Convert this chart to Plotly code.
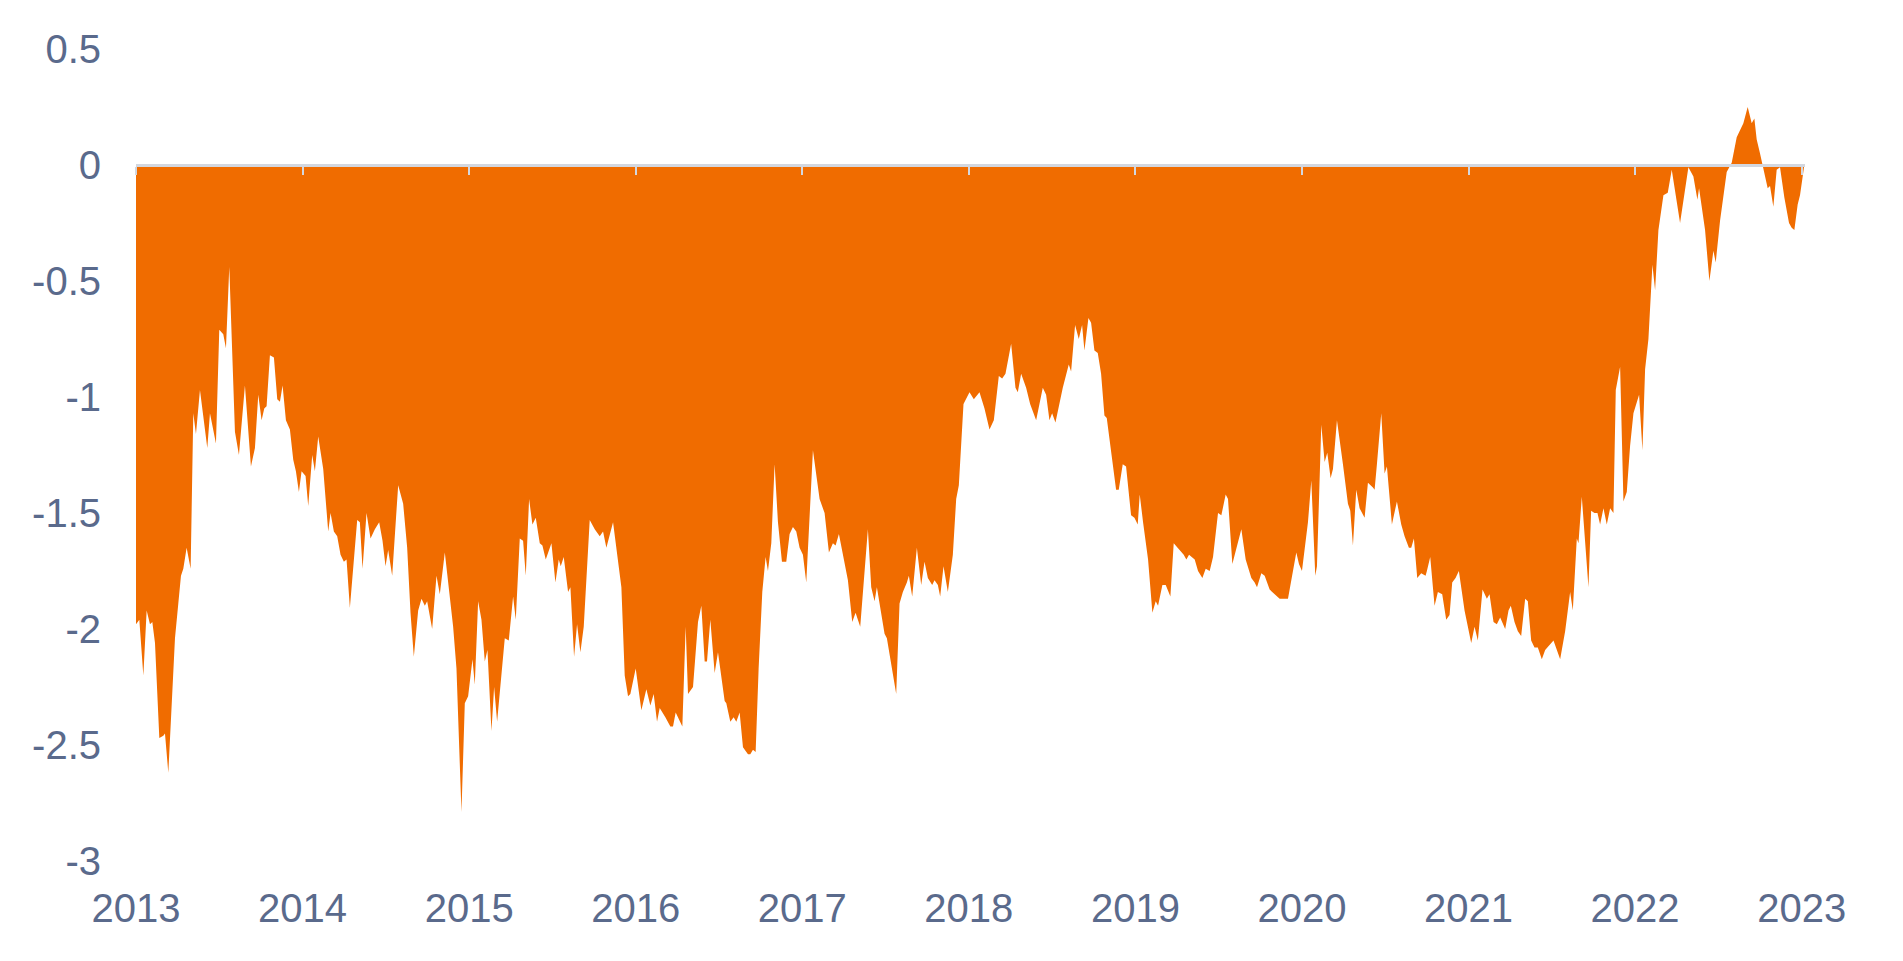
import plotly.graph_objects as go

# ---- data (decimal years, values) ----
t_a = [2013.000, 2013.020, 2013.044, 2013.064, 2013.084, 2013.098, 2013.114, 2013.140, 2013.164, 2013.174,
       2013.194, 2013.234, 2013.254, 2013.270, 2013.284, 2013.304, 2013.328, 2013.344, 2013.360, 2013.384,
       2013.428, 2013.444, 2013.480, 2013.500, 2013.524, 2013.540, 2013.560, 2013.594, 2013.618, 2013.654,
       2013.690, 2013.714, 2013.734, 2013.754, 2013.770, 2013.784, 2013.804, 2013.828, 2013.848, 2013.864,
       2013.880, 2013.900, 2013.924, 2013.944, 2013.960, 2013.978, 2013.994, 2014.018, 2014.034, 2014.058,
       2014.074, 2014.094, 2014.124, 2014.154, 2014.168, 2014.188, 2014.208, 2014.228, 2014.248, 2014.264,
       2014.284, 2014.328, 2014.344, 2014.360, 2014.384, 2014.408, 2014.434, 2014.460, 2014.480, 2014.498,
       2014.514, 2014.538, 2014.574, 2014.604, 2014.628, 2014.648, 2014.668, 2014.694, 2014.714, 2014.734,
       2014.748, 2014.778, 2014.804, 2014.824, 2014.854, 2014.874, 2014.904, 2014.924, 2014.940, 2014.954,
       2014.974]
v_a = [-1.98, -1.96, -2.20, -1.92, -1.98, -1.97, -2.06, -2.47, -2.46, -2.45,
       -2.62, -2.04, -1.89, -1.77, -1.74, -1.65, -1.74, -1.07, -1.16, -0.97,
       -1.22, -1.07, -1.20, -0.71, -0.73, -0.79, -0.44, -1.15, -1.25, -0.95,
       -1.30, -1.22, -0.99, -1.10, -1.05, -1.04, -0.82, -0.83, -1.01, -1.02,
       -0.95, -1.10, -1.14, -1.27, -1.32, -1.41, -1.32, -1.34, -1.47, -1.25,
       -1.32, -1.17, -1.31, -1.58, -1.50, -1.58, -1.60, -1.68, -1.71, -1.70,
       -1.91, -1.53, -1.54, -1.74, -1.50, -1.61, -1.57, -1.54, -1.62, -1.73,
       -1.66, -1.77, -1.38, -1.46, -1.65, -1.93, -2.12, -1.92, -1.87, -1.90,
       -1.88, -2.00, -1.77, -1.85, -1.67, -1.80, -1.99, -2.17, -2.55, -2.79,
       -2.32]

t_b = [2014.994, 2015.020, 2015.034, 2015.054, 2015.074, 2015.094, 2015.110, 2015.134, 2015.150, 2015.168,
       2015.214, 2015.238, 2015.264, 2015.280, 2015.304, 2015.324, 2015.340, 2015.360, 2015.380, 2015.400,
       2015.424, 2015.440, 2015.460, 2015.494, 2015.518, 2015.538, 2015.550, 2015.568, 2015.594, 2015.608,
       2015.630, 2015.648, 2015.668, 2015.688, 2015.724, 2015.754, 2015.784, 2015.804, 2015.824, 2015.864,
       2015.888, 2015.914, 2015.934, 2015.954, 2015.968, 2016.000, 2016.034, 2016.064, 2016.088, 2016.108,
       2016.128, 2016.144, 2016.178, 2016.208, 2016.224, 2016.240, 2016.280, 2016.300, 2016.314, 2016.344,
       2016.374, 2016.394, 2016.414, 2016.428, 2016.448, 2016.474, 2016.494, 2016.534, 2016.544, 2016.568,
       2016.588, 2016.604, 2016.624, 2016.644, 2016.674, 2016.688, 2016.704, 2016.720, 2016.738, 2016.760,
       2016.780, 2016.794, 2016.814, 2016.834, 2016.854, 2016.878, 2016.904, 2016.924, 2016.944, 2016.964]
v_b = [-2.29, -2.13, -2.24, -1.88, -1.96, -2.14, -2.09, -2.44, -2.25, -2.40,
       -2.04, -2.05, -1.86, -1.96, -1.61, -1.62, -1.77, -1.44, -1.55, -1.52,
       -1.63, -1.64, -1.70, -1.63, -1.80, -1.70, -1.73, -1.69, -1.84, -1.82,
       -2.12, -1.98, -2.10, -1.99, -1.53, -1.57, -1.60, -1.58, -1.65, -1.54,
       -1.68, -1.82, -2.20, -2.29, -2.28, -2.17, -2.35, -2.26, -2.33, -2.28,
       -2.40, -2.34, -2.38, -2.42, -2.42, -2.36, -2.42, -1.99, -2.28, -2.25,
       -1.97, -1.90, -2.14, -2.14, -1.96, -2.19, -2.10, -2.31, -2.32, -2.40,
       -2.38, -2.40, -2.36, -2.51, -2.54, -2.54, -2.52, -2.53, -2.17, -1.84,
       -1.69, -1.75, -1.63, -1.29, -1.54, -1.71, -1.71, -1.59, -1.56, -1.58]

t_c = [2016.984, 2017.004, 2017.024, 2017.064, 2017.104, 2017.134, 2017.160, 2017.184, 2017.200, 2017.220,
       2017.274, 2017.300, 2017.320, 2017.348, 2017.394, 2017.414, 2017.434, 2017.448, 2017.494, 2017.508,
       2017.564, 2017.584, 2017.604, 2017.628, 2017.640, 2017.660, 2017.688, 2017.714, 2017.734, 2017.754,
       2017.780, 2017.794, 2017.814, 2017.828, 2017.848, 2017.874, 2017.904, 2017.924, 2017.940, 2017.968,
       2018.004, 2018.030, 2018.064, 2018.094, 2018.124, 2018.150, 2018.180, 2018.200, 2018.220, 2018.254,
       2018.280, 2018.294, 2018.314, 2018.344, 2018.368, 2018.404, 2018.424, 2018.444, 2018.464, 2018.484,
       2018.500, 2018.520, 2018.564, 2018.600, 2018.614, 2018.638, 2018.660, 2018.680, 2018.694, 2018.718,
       2018.734, 2018.754, 2018.774, 2018.794, 2018.814, 2018.828, 2018.884, 2018.900, 2018.924, 2018.944,
       2018.974, 2018.994, 2019.014]
v_c = [-1.65, -1.68, -1.80, -1.23, -1.44, -1.50, -1.67, -1.63, -1.64, -1.59,
       -1.79, -1.97, -1.93, -1.99, -1.57, -1.82, -1.88, -1.82, -2.02, -2.04,
       -2.28, -1.89, -1.84, -1.80, -1.77, -1.86, -1.65, -1.81, -1.71, -1.78,
       -1.81, -1.79, -1.81, -1.86, -1.73, -1.84, -1.68, -1.44, -1.38, -1.03,
       -0.98, -1.01, -0.98, -1.05, -1.14, -1.10, -0.91, -0.92, -0.90, -0.77,
       -0.96, -0.98, -0.90, -0.96, -1.03, -1.10, -1.03, -0.96, -0.99, -1.10,
       -1.07, -1.11, -0.96, -0.86, -0.89, -0.69, -0.75, -0.69, -0.80, -0.66,
       -0.68, -0.80, -0.81, -0.90, -1.08, -1.09, -1.40, -1.40, -1.29, -1.30,
       -1.51, -1.52, -1.55]

t_d = [2019.026, 2019.046, 2019.076, 2019.102, 2019.122, 2019.136, 2019.162, 2019.182, 2019.210, 2019.230,
       2019.266, 2019.290, 2019.306, 2019.322, 2019.356, 2019.376, 2019.402, 2019.422, 2019.446, 2019.466,
       2019.496, 2019.516, 2019.542, 2019.556, 2019.582, 2019.606, 2019.636, 2019.662, 2019.696, 2019.716,
       2019.730, 2019.756, 2019.776, 2019.806, 2019.836, 2019.866, 2019.916, 2019.942, 2019.966, 2019.982,
       2020.000, 2020.036, 2020.056, 2020.080, 2020.090, 2020.116, 2020.136, 2020.152, 2020.172, 2020.186,
       2020.210, 2020.246, 2020.276, 2020.290, 2020.306, 2020.326, 2020.346, 2020.376, 2020.396, 2020.426,
       2020.436, 2020.450, 2020.476, 2020.496, 2020.510, 2020.540, 2020.570, 2020.596, 2020.616, 2020.642,
       2020.656, 2020.672, 2020.692, 2020.716, 2020.742, 2020.750, 2020.770, 2020.796, 2020.816, 2020.842,
       2020.866, 2020.886, 2020.902, 2020.922, 2020.942, 2020.976, 2021.016, 2021.036, 2021.056]
v_d = [-1.42, -1.54, -1.70, -1.93, -1.88, -1.90, -1.81, -1.81, -1.86, -1.63,
       -1.66, -1.68, -1.70, -1.68, -1.70, -1.75, -1.78, -1.74, -1.75, -1.69,
       -1.50, -1.51, -1.42, -1.44, -1.72, -1.65, -1.57, -1.70, -1.78, -1.80,
       -1.82, -1.76, -1.77, -1.83, -1.85, -1.87, -1.87, -1.77, -1.67, -1.72,
       -1.75, -1.54, -1.36, -1.77, -1.73, -1.12, -1.28, -1.24, -1.35, -1.31,
       -1.10, -1.29, -1.46, -1.49, -1.64, -1.40, -1.48, -1.52, -1.37, -1.39,
       -1.40, -1.29, -1.07, -1.33, -1.30, -1.55, -1.45, -1.55, -1.60, -1.65,
       -1.65, -1.61, -1.78, -1.76, -1.77, -1.75, -1.69, -1.90, -1.84, -1.85,
       -1.96, -1.94, -1.80, -1.78, -1.75, -1.92, -2.06, -1.99, -2.05]

t_e = [2021.084, 2021.110, 2021.126, 2021.150, 2021.170, 2021.190, 2021.220, 2021.240, 2021.254, 2021.276,
       2021.296, 2021.316, 2021.340, 2021.356, 2021.376, 2021.396, 2021.416, 2021.440, 2021.460, 2021.484,
       2021.510, 2021.550, 2021.580, 2021.610, 2021.626, 2021.650, 2021.660, 2021.680, 2021.720, 2021.736,
       2021.756, 2021.774, 2021.790, 2021.810, 2021.830, 2021.850, 2021.870, 2021.884, 2021.910, 2021.930,
       2021.950, 2021.970, 2021.990, 2022.024, 2022.044, 2022.060, 2022.080, 2022.104, 2022.120, 2022.140,
       2022.170, 2022.196, 2022.220, 2022.270, 2022.320, 2022.350, 2022.374, 2022.384, 2022.420, 2022.446,
       2022.470, 2022.484, 2022.510, 2022.550, 2022.580, 2022.610, 2022.630, 2022.650, 2022.676, 2022.700,
       2022.716, 2022.730, 2022.750, 2022.776, 2022.796, 2022.810, 2022.830, 2022.850, 2022.870, 2022.896,
       2022.924, 2022.940, 2022.956, 2022.976, 2022.990, 2023.004, 2023.016]
v_e = [-1.83, -1.87, -1.85, -1.97, -1.98, -1.95, -2.00, -1.92, -1.90, -1.97,
       -2.01, -2.03, -1.87, -1.88, -2.05, -2.08, -2.08, -2.13, -2.09, -2.07,
       -2.05, -2.13, -2.01, -1.84, -1.92, -1.61, -1.63, -1.43, -1.82, -1.49,
       -1.50, -1.50, -1.55, -1.48, -1.55, -1.48, -1.50, -0.97, -0.87, -1.45,
       -1.41, -1.21, -1.07, -0.99, -1.23, -0.88, -0.75, -0.43, -0.54, -0.28,
       -0.13, -0.12, -0.02, -0.25, -0.01, -0.05, -0.15, -0.10, -0.28, -0.50,
       -0.37, -0.42, -0.24, -0.03, 0.01, 0.12, 0.15, 0.18, 0.25, 0.18,
       0.20, 0.11, 0.05, -0.03, -0.10, -0.09, -0.18, -0.02, -0.01, -0.14,
       -0.25, -0.27, -0.28, -0.17, -0.13, -0.06, 0.00]

year_ticks = [2013, 2014, 2015, 2016, 2017, 2018, 2019, 2020, 2021, 2022, 2023]
year_labels = [str(y) for y in year_ticks]
y_ticks = [0.5, 0, -0.5, -1, -1.5, -2, -2.5, -3]
y_labels = ["0.5", "0", "-0.5", "-1", "-1.5", "-2", "-2.5", "-3"]

t_all = t_a + t_b + t_c + t_d + t_e
v_all = v_a + v_b + v_c + v_d + v_e

ORANGE = "#f06c00"
TEXT = "#5a6a8c"
AXIS = "#d3d7df"
FONT = "Liberation Sans, Arial, sans-serif"

y_range = [-3, 0.5]
x_range = [2013, 2023.02]

fig = go.Figure()
fig.add_trace(go.Scatter(
    x=t_all, y=v_all, mode="lines", fill="tozeroy",
    fillcolor=ORANGE, line=dict(color=ORANGE, width=0),
    hoverinfo="skip", showlegend=False,
))
# helper (empty) trace so the zero-line axis with ticks is drawn
fig.add_trace(go.Scatter(x=[], y=[], xaxis="x2", yaxis="y", showlegend=False, hoverinfo="skip"))

fig.update_layout(
    width=1903, height=961,
    margin=dict(l=136, r=98, t=49, b=100),
    paper_bgcolor="white", plot_bgcolor="white",
    font=dict(family=FONT, size=40, color=TEXT),
    xaxis=dict(
        range=x_range, tickmode="array", tickvals=year_ticks, ticktext=year_labels,
        showgrid=False, zeroline=False, showline=False, ticks="",
        ticklabelstandoff=20, tickfont=dict(size=40, color=TEXT, family=FONT),
    ),
    xaxis2=dict(
        range=x_range, overlaying="x", anchor="free",
        position=(0 - y_range[0]) / (y_range[1] - y_range[0]),
        tickmode="array", tickvals=year_ticks, showticklabels=False,
        showgrid=False, zeroline=False, showline=True, linecolor=AXIS, linewidth=3,
        ticks="outside", ticklen=8, tickwidth=2, tickcolor=AXIS,
    ),
    yaxis=dict(
        range=y_range, tickmode="array", tickvals=y_ticks, ticktext=y_labels,
        showgrid=False, zeroline=False, showline=False, ticks="",
        ticklabelstandoff=34, tickfont=dict(size=40, color=TEXT, family=FONT),
    ),
)

fig.write_html(
    "out.html",
    config={"displayModeBar": False},
    post_script="document.body.style.margin='0';document.body.style.overflow='hidden';",
)
